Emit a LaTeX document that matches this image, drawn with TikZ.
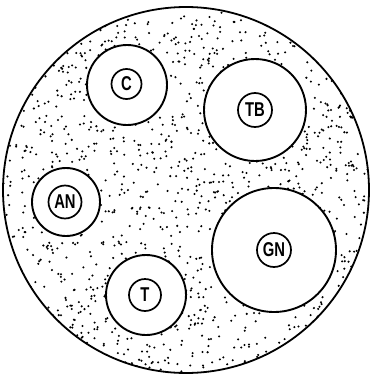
\documentclass[tikz,border=0pt]{standalone}
\usepackage{fontspec}
\setmainfont{Liberation Sans}
\newcommand{\lab}[1]{\scalebox{0.74}[1]{\bfseries #1}}
\begin{document}
\begin{tikzpicture}[x=1pt,y=-1pt,
  cell/.style={circle,draw=black,line width=1.9pt,fill=white,inner sep=0pt},
  core/.style={circle,draw=black,line width=1.7pt,fill=white,inner sep=0pt,minimum size=33pt,font=\fontsize{20}{21}\selectfont}]
\useasboundingbox[fill=white] (0,0) rectangle (370,378);
\coordinate (ctr) at (186,190);
\begin{scope}
  \clip (ctr) circle (183);
  \pgfmathsetseed{2024}
  \foreach \i in {1,...,1600}{
    \pgfmathsetmacro{\px}{3+rnd*366}
    \pgfmathsetmacro{\py}{6+rnd*370}
    \fill[black] (\px,\py) circle (1.15);
  }
\end{scope}
\draw[line width=1.8pt] (ctr) circle (183);
\node[cell,minimum size=80pt] (C) at (127,85) {};
\node[cell,minimum size=102pt] (TB) at (255,110) {};
\node[cell,minimum size=68pt] (AN) at (66,202) {};
\node[cell,minimum size=124pt] (GN) at (274,250) {};
\node[cell,minimum size=80pt] (T) at (146,295) {};
\node[core,minimum size=30pt] (Cc) at (126.5,84) {\lab{C}};
\node[core,minimum size=34pt] (TBc) at (TB) {\lab{TB}};
\node[core,minimum size=33pt] (ANc) at (65,202) {\lab{AN}};
\node[core,minimum size=34pt] (GNc) at (GN) {\lab{GN}};
\node[core,minimum size=32pt] (Tc) at (145,295) {\lab{T}};
\end{tikzpicture}
\end{document}
